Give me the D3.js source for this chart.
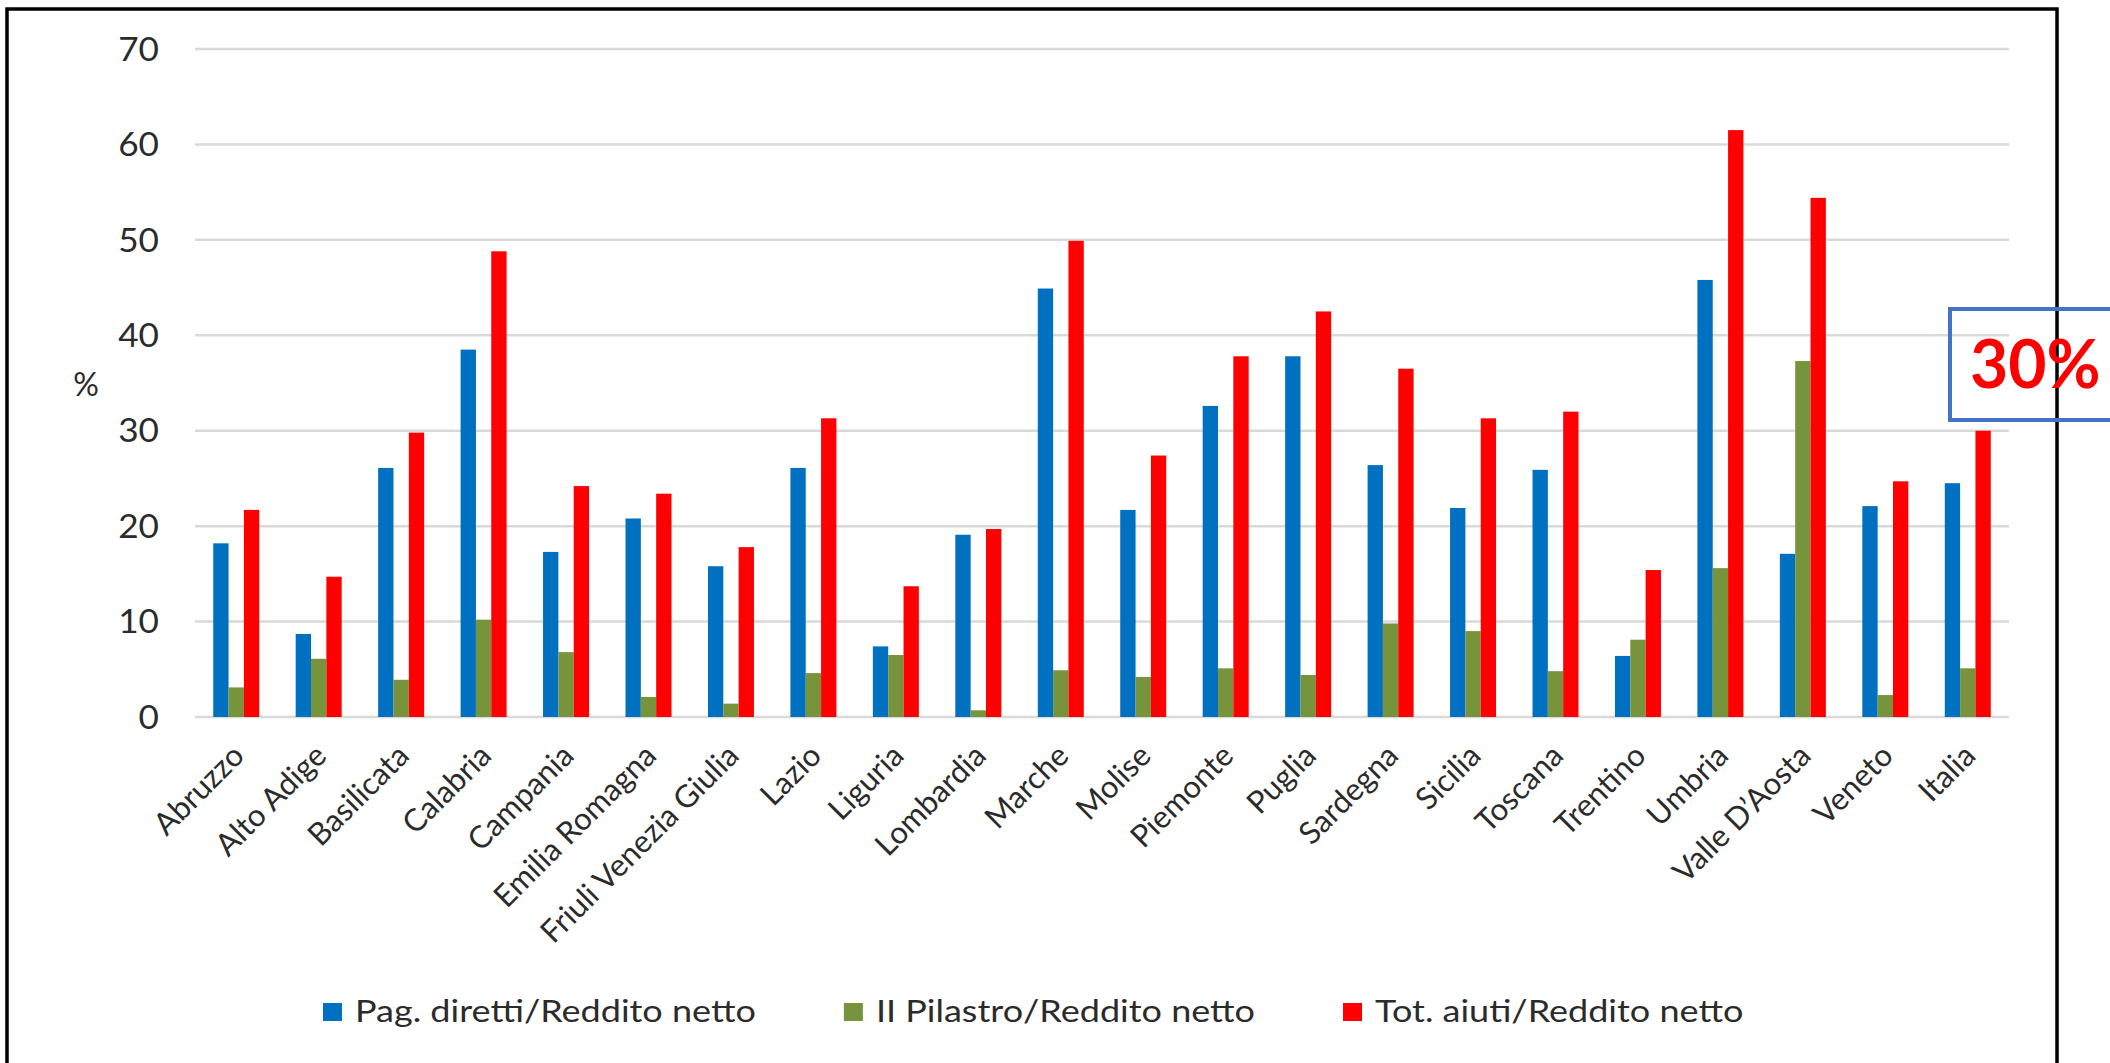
<!DOCTYPE html>
<html lang="it">
<head>
<meta charset="UTF-8">
<title>Aiuti / Reddito netto per regione</title>
<script src="https://d3js.org/d3.v7.min.js"></script>
<style>
  body { margin: 0; background: #fff; }
  svg text { font-family: Lato, "Open Sans", sans-serif; fill: #2b2b2b; }
</style>
</head>
<body>
<div id="chart"></div>
<script>
// categories and series
const regions = ["Abruzzo", "Alto Adige", "Basilicata", "Calabria", "Campania", "Emilia Romagna",
  "Friuli Venezia Giulia", "Lazio", "Liguria", "Lombardia", "Marche", "Molise", "Piemonte",
  "Puglia", "Sardegna", "Sicilia", "Toscana", "Trentino", "Umbria", "Valle D\u2019Aosta", "Veneto", "Italia"];

const pagDiretti = [18.2, 8.7, 26.1, 38.5, 17.3, 20.8, 15.8, 26.1, 7.4, 19.1, 44.9, 21.7, 32.6,
  37.8, 26.4, 21.9, 25.9, 6.4, 45.8, 17.1, 22.1, 24.5];
const secondoPilastro = [3.1, 6.1, 3.9, 10.2, 6.8, 2.1, 1.4, 4.6, 6.5, 0.7, 4.9, 4.2, 5.1,
  4.4, 9.8, 9.0, 4.8, 8.1, 15.6, 37.3, 2.3, 5.1];
const totAiuti = [21.7, 14.7, 29.8, 48.8, 24.2, 23.4, 17.8, 31.3, 13.7, 19.7, 49.9, 27.4, 37.8,
  42.5, 36.5, 31.3, 32.0, 15.4, 61.5, 54.4, 24.7, 30.0];

const seriesNames = ["Pag. diretti/Reddito netto", "II Pilastro/Reddito netto", "Tot. aiuti/Reddito netto"];
const seriesColors = ["#0070C0", "#77933C", "#FF0000"];
const yTicks = [0, 10, 20, 30, 40, 50, 60, 70];

const W = 2110, H = 1063;
const stretch = 1.2; // the source text is drawn wider than Lato

const svg = d3.select("#chart").append("svg")
  .attr("width", W).attr("height", H);

// outer frame
svg.append("rect")
  .attr("x", 7).attr("y", 9)
  .attr("width", 2050).attr("height", 1120)
  .attr("fill", "none").attr("stroke", "#000").attr("stroke-width", 3.5);

const x0 = d3.scaleBand().domain(regions).range([195, 2009]).padding(0);
const groupW = 46;
const x1 = d3.scaleBand().domain(seriesNames).range([0, groupW]).padding(0);
const y = d3.scaleLinear().domain([0, 70]).range([717, 49]);

// gridlines
svg.append("g").selectAll("line").data(yTicks).join("line")
  .attr("x1", 195).attr("x2", 2009)
  .attr("y1", d => y(d)).attr("y2", d => y(d))
  .attr("stroke", "#d9d9d9").attr("stroke-width", 2.5);

// y axis labels
const yAxis = d3.axisLeft(y).tickValues(yTicks).tickSize(0).tickPadding(0);
const yg = svg.append("g").attr("transform", "translate(159,0)").call(yAxis);
yg.select(".domain").remove();
yg.selectAll("text")
  .style("font-size", "32px").attr("fill", "#2b2b2b").attr("dy", "0.35em")
  .each(function () {
    const w = this.getComputedTextLength();
    d3.select(this).attr("textLength", w * 1.1).attr("lengthAdjust", "spacingAndGlyphs");
  });

svg.append("text")
  .attr("x", 86).attr("y", 385).attr("dy", "0.35em")
  .attr("text-anchor", "middle").style("font-size", "32px")
  .text("%");

// bars
const rows = regions.map((r, i) => ({ region: r, values: [pagDiretti[i], secondoPilastro[i], totAiuti[i]] }));
const off = (x0.bandwidth() - groupW) / 2;

svg.append("g").selectAll("g").data(rows).join("g")
  .attr("transform", d => `translate(${x0(d.region) + off},0)`)
  .selectAll("rect").data(d => d.values.map((v, k) => ({ k, v })))
  .join("rect")
  .attr("x", d => x1(seriesNames[d.k]))
  .attr("width", x1.bandwidth())
  .attr("y", d => y(d.v))
  .attr("height", d => y(0) - y(d.v))
  .attr("fill", d => seriesColors[d.k]);

// x labels, rotated
svg.append("g").selectAll("text").data(regions).join("text")
  .attr("transform", d => `translate(${x0(d) + x0.bandwidth() / 2 + 2},750) rotate(-45)`)
  .attr("text-anchor", "end")
  .attr("dy", "0.35em")
  .style("font-size", "31px")
  .text(d => d);

// legend
const legend = svg.append("g");
let lx = 323;
seriesNames.forEach((name, k) => {
  legend.append("rect")
    .attr("x", lx).attr("y", 1003)
    .attr("width", 19).attr("height", 18)
    .attr("fill", seriesColors[k]);
  const t = legend.append("text")
    .attr("x", lx + 32).attr("y", 1022)
    .style("font-size", "30px")
    .text(name);
  const w = t.node().getComputedTextLength() * stretch;
  t.attr("textLength", w).attr("lengthAdjust", "spacingAndGlyphs");
  lx += 32 + w + 88;
});

// annotation box
svg.append("rect")
  .attr("x", 1950).attr("y", 309)
  .attr("width", 220).attr("height", 111)
  .attr("fill", "none").attr("stroke", "#4472C4").attr("stroke-width", 4);
svg.append("text")
  .attr("x", 1970).attr("y", 388)
  .style("font-size", "66px").style("font-weight", "bold")
  .style("fill", "#FF0000")
  .text("30%");
</script>
</body>
</html>
